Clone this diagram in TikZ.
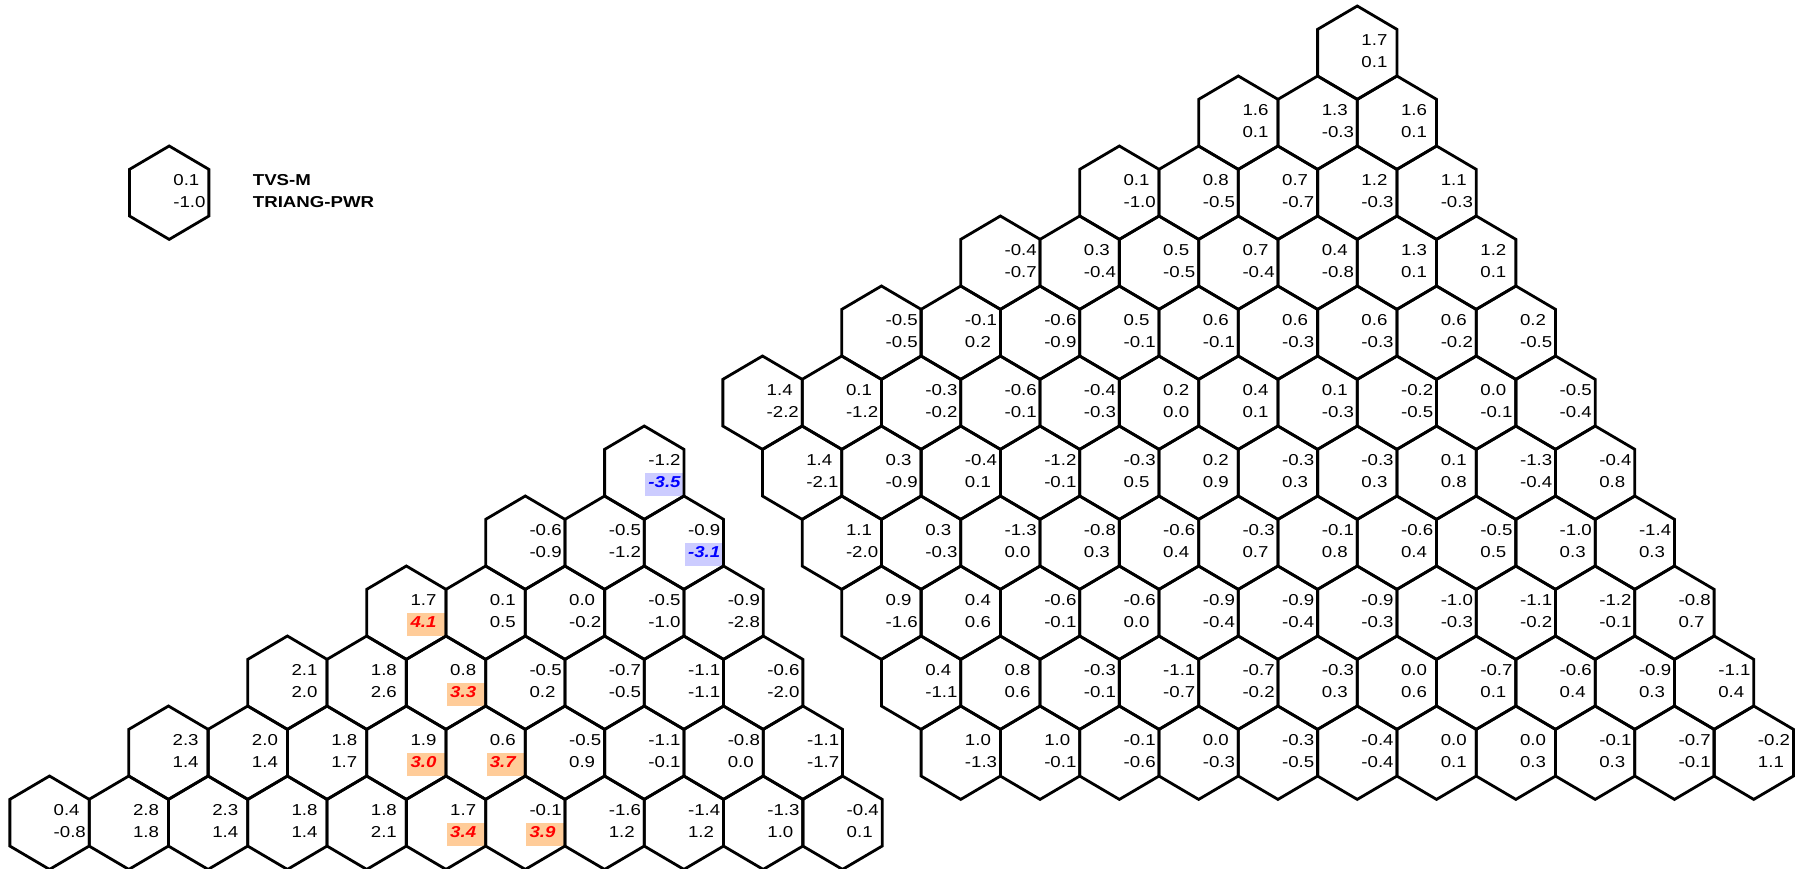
\documentclass[tikz,border=0pt]{standalone}
\usepackage{fontspec}
\setmainfont{Liberation Sans}
\newfontfamily\numfont[FakeStretch=1.18]{Liberation Sans}
\definecolor{hlorange}{RGB}{255,204,153}
\definecolor{hlblue}{RGB}{204,204,255}
\tikzset{
  hexline/.style={draw=black, line width=2.8pt},
  celltext/.style={anchor=base west, inner sep=0pt, font=\numfont\fontsize{15.8}{18}\selectfont},
  hottext/.style={celltext, font=\numfont\fontsize{15.8}{18}\selectfont\bfseries\itshape, text=red},
  coldtext/.style={celltext, font=\numfont\fontsize{15.8}{18}\selectfont\bfseries\itshape, text=blue},
  legendtext/.style={anchor=base west, inner sep=0pt, font=\numfont\fontsize{15.8}{18}\selectfont\bfseries},
  orangebox/.style={fill=hlorange},
  bluebox/.style={fill=hlblue},
}
% cx, cy, top, bottom, flag (0 plain, 1 orange, 2 blue), name
\newcommand\hexcell[6]{%
  \ifcase#5\relax\or
    \fill[orangebox] (#1+1,#2) rectangle (#1+39,#2+23.5);
  \or
    \fill[bluebox] (#1+1,#2) rectangle (#1+39,#2+23.5);
  \fi
  \draw[hexline] (#1,#2-46.7) -- (#1+39.65,#2-23.35) -- (#1+39.65,#2+23.35)
     -- (#1,#2+46.7) -- (#1-39.65,#2+23.35) -- (#1-39.65,#2-23.35) -- cycle;
  \node[celltext] (#6-a) at (#1+4,#2-7.5) {#3};
  \ifcase#5\relax
    \node[celltext] (#6-b) at (#1+4,#2+15) {#4};
  \or
    \node[hottext] (#6-b) at (#1+4,#2+15) {#4};
  \or
    \node[coldtext] (#6-b) at (#1+4,#2+15) {#4};
  \fi
}
% first x, y, prefix, list
\newcommand\hexrow[4]{%
  \foreach \ta/\tb/\fl [count=\i from 0] in {#4} {
    \pgfmathsetmacro\cx{#1+\i*79.3}
    \hexcell{\cx}{#2}{\ta}{\tb}{\fl}{#3-\i}
  }
}
\begin{document}
\begin{tikzpicture}[x=1pt, y=-1pt]
\useasboundingbox (0,0) rectangle (1805,869);
% legend
\hexcell{169.2}{192.7}{0.1}{-1.0}{0}{leg}
\node[legendtext] (legA) at (252.7,185.2) {TVS-M};
\node[legendtext] (legB) at (252.7,207.7) {TRIANG-PWR};
% right triangle
\hexrow{1357.25}{52.7}{R0}{1.7/0.1/0}
\hexrow{1238.3}{122.7}{R1}{1.6/0.1/0, 1.3/-0.3/0, 1.6/0.1/0}
\hexrow{1119.35}{192.7}{R2}{0.1/-1.0/0, 0.8/-0.5/0, 0.7/-0.7/0, 1.2/-0.3/0, 1.1/-0.3/0}
\hexrow{1000.4}{262.7}{R3}{-0.4/-0.7/0, 0.3/-0.4/0, 0.5/-0.5/0, 0.7/-0.4/0, 0.4/-0.8/0, 1.3/0.1/0, 1.2/0.1/0}
\hexrow{881.45}{332.7}{R4}{-0.5/-0.5/0, -0.1/0.2/0, -0.6/-0.9/0, 0.5/-0.1/0, 0.6/-0.1/0, 0.6/-0.3/0, 0.6/-0.3/0, 0.6/-0.2/0, 0.2/-0.5/0}
\hexrow{762.5}{402.7}{R5}{1.4/-2.2/0, 0.1/-1.2/0, -0.3/-0.2/0, -0.6/-0.1/0, -0.4/-0.3/0, 0.2/0.0/0, 0.4/0.1/0, 0.1/-0.3/0, -0.2/-0.5/0, 0.0/-0.1/0, -0.5/-0.4/0}
\hexrow{802.15}{472.7}{R6}{1.4/-2.1/0, 0.3/-0.9/0, -0.4/0.1/0, -1.2/-0.1/0, -0.3/0.5/0, 0.2/0.9/0, -0.3/0.3/0, -0.3/0.3/0, 0.1/0.8/0, -1.3/-0.4/0, -0.4/0.8/0}
\hexrow{841.8}{542.7}{R7}{1.1/-2.0/0, 0.3/-0.3/0, -1.3/0.0/0, -0.8/0.3/0, -0.6/0.4/0, -0.3/0.7/0, -0.1/0.8/0, -0.6/0.4/0, -0.5/0.5/0, -1.0/0.3/0, -1.4/0.3/0}
\hexrow{881.45}{612.7}{R8}{0.9/-1.6/0, 0.4/0.6/0, -0.6/-0.1/0, -0.6/0.0/0, -0.9/-0.4/0, -0.9/-0.4/0, -0.9/-0.3/0, -1.0/-0.3/0, -1.1/-0.2/0, -1.2/-0.1/0, -0.8/0.7/0}
\hexrow{921.1}{682.7}{R9}{0.4/-1.1/0, 0.8/0.6/0, -0.3/-0.1/0, -1.1/-0.7/0, -0.7/-0.2/0, -0.3/0.3/0, 0.0/0.6/0, -0.7/0.1/0, -0.6/0.4/0, -0.9/0.3/0, -1.1/0.4/0}
\hexrow{960.75}{752.7}{R10}{1.0/-1.3/0, 1.0/-0.1/0, -0.1/-0.6/0, 0.0/-0.3/0, -0.3/-0.5/0, -0.4/-0.4/0, 0.0/0.1/0, 0.0/0.3/0, -0.1/0.3/0, -0.7/-0.1/0, -0.2/1.1/0}
% left triangle
\hexrow{644.25}{472.7}{L0}{-1.2/-3.5/2}
\hexrow{525.3}{542.7}{L1}{-0.6/-0.9/0, -0.5/-1.2/0, -0.9/-3.1/2}
\hexrow{406.35}{612.7}{L2}{1.7/4.1/1, 0.1/0.5/0, 0.0/-0.2/0, -0.5/-1.0/0, -0.9/-2.8/0}
\hexrow{287.4}{682.7}{L3}{2.1/2.0/0, 1.8/2.6/0, 0.8/3.3/1, -0.5/0.2/0, -0.7/-0.5/0, -1.1/-1.1/0, -0.6/-2.0/0}
\hexrow{168.45}{752.7}{L4}{2.3/1.4/0, 2.0/1.4/0, 1.8/1.7/0, 1.9/3.0/1, 0.6/3.7/1, -0.5/0.9/0, -1.1/-0.1/0, -0.8/0.0/0, -1.1/-1.7/0}
\hexrow{49.5}{822.7}{L5}{0.4/-0.8/0, 2.8/1.8/0, 2.3/1.4/0, 1.8/1.4/0, 1.8/2.1/0, 1.7/3.4/1, -0.1/3.9/1, -1.6/1.2/0, -1.4/1.2/0, -1.3/1.0/0, -0.4/0.1/0}
\end{tikzpicture}
\end{document}
